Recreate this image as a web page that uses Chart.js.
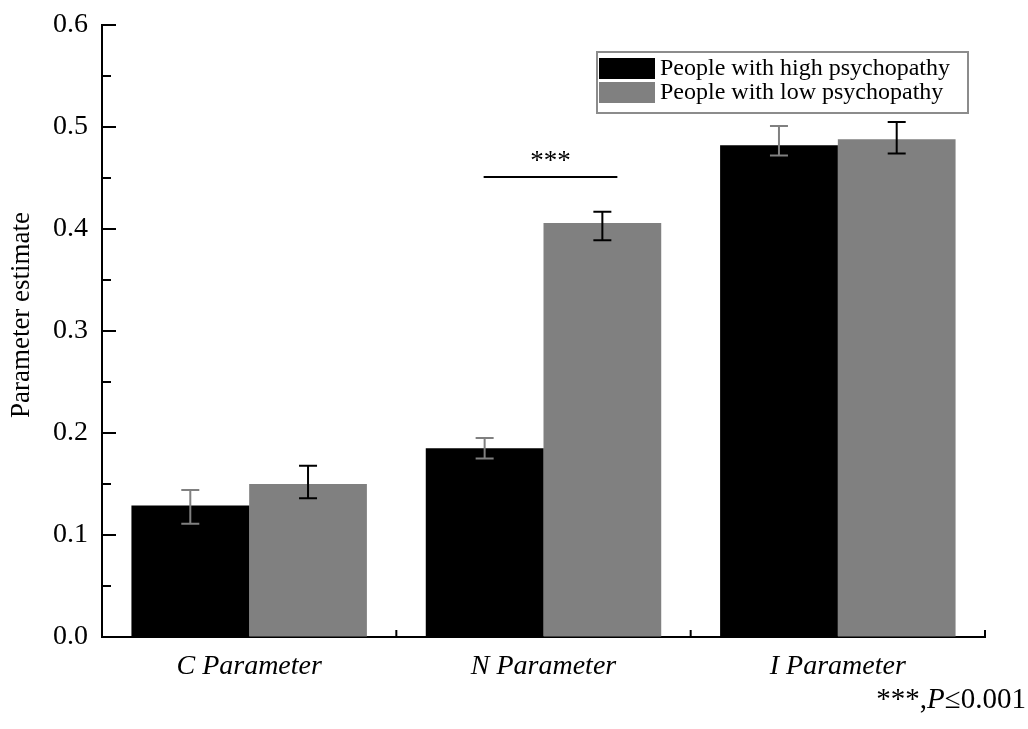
<!DOCTYPE html>
<html>
<head>
<meta charset="utf-8">
<script src="https://cdn.jsdelivr.net/npm/chart.js@4"></script>
<style>
  html, body { margin: 0; padding: 0; background: #fff; }
</style>
</head>
<body>
<canvas id="mycanvas" width="1028" height="729"></canvas>
<script>
const categories = ['C Parameter', 'N Parameter', 'I Parameter'];
const seriesNames = ['People with high psychopathy', 'People with low psychopathy'];
const highValues = [0.129, 0.185, 0.482];
const lowValues = [0.150, 0.406, 0.488];
// error bar ends
const highErrTop = [0.144, 0.195, 0.501];
const highErrBottom = [0.111, 0.175, 0.472];
const lowErrTop = [0.168, 0.417, 0.505];
const lowErrBottom = [0.136, 0.389, 0.474];
const yMin = 0;
const yMax = 0.6;
const yStep = 0.1;
const sigCategory = 1;
const sigLevel = 0.451;
const sigLabel = '***';
const footnoteParts = ['***,', 'P', '\u22640.001'];

const serif = '"Liberation Serif", "DejaVu Serif", serif';
const colors = ['#000000', '#808080'];
const errColors = ['#808080', '#000000'];
const errTop = [highErrTop, lowErrTop];
const errBottom = [highErrBottom, lowErrBottom];

const extras = {
  id: 'extras',
  beforeDraw(chart) {
    const ctx = chart.ctx;
    ctx.save();
    ctx.fillStyle = '#fff';
    ctx.fillRect(0, 0, chart.width, chart.height);
    ctx.restore();
  },
  afterDatasetsDraw(chart) {
    const ctx = chart.ctx;
    const y = chart.scales.y;
    ctx.save();
    ctx.lineWidth = 2;
    chart.data.datasets.forEach((ds, i) => {
      const meta = chart.getDatasetMeta(i);
      ctx.strokeStyle = errColors[i];
      meta.data.forEach((bar, j) => {
        const t = y.getPixelForValue(errTop[i][j]);
        const b = y.getPixelForValue(errBottom[i][j]);
        ctx.beginPath();
        ctx.moveTo(bar.x, t); ctx.lineTo(bar.x, b);
        ctx.moveTo(bar.x - 9, t); ctx.lineTo(bar.x + 9, t);
        ctx.moveTo(bar.x - 9, b); ctx.lineTo(bar.x + 9, b);
        ctx.stroke();
      });
    });
    ctx.restore();
  },
  afterDraw(chart) {
    const ctx = chart.ctx;
    const { x, y } = chart.scales;
    const area = chart.chartArea;
    ctx.save();
    ctx.strokeStyle = '#000';
    ctx.lineWidth = 2;

    // inward ticks on the y axis, minor ones halfway
    y.ticks.forEach((t, k) => {
      const py = y.getPixelForValue(t.value);
      ctx.beginPath();
      ctx.moveTo(area.left, py); ctx.lineTo(area.left + 14, py);
      ctx.stroke();
      if (k < y.ticks.length - 1) {
        const my = y.getPixelForValue((t.value + y.ticks[k + 1].value) / 2);
        ctx.beginPath();
        ctx.moveTo(area.left, my); ctx.lineTo(area.left + 9, my);
        ctx.stroke();
      }
    });

    // small upward ticks at category boundaries
    for (let i = 0; i < categories.length; i++) {
      const px = i < categories.length - 1
        ? (x.getPixelForValue(i) + x.getPixelForValue(i + 1)) / 2
        : area.right;
      ctx.beginPath();
      ctx.moveTo(px, area.bottom); ctx.lineTo(px, area.bottom - 7);
      ctx.stroke();
    }

    // significance bracket
    const m0 = chart.getDatasetMeta(0).data[sigCategory];
    const m1 = chart.getDatasetMeta(1).data[sigCategory];
    const sy = y.getPixelForValue(sigLevel);
    ctx.beginPath();
    ctx.moveTo(m0.x - 1, sy); ctx.lineTo(m1.x + 15, sy);
    ctx.stroke();
    ctx.fillStyle = '#000';
    ctx.font = '27px ' + serif;
    ctx.textAlign = 'center';
    ctx.textBaseline = 'middle';
    ctx.fillText(sigLabel, (m0.x + m1.x + 14) / 2, sy - 15);

    // legend box
    ctx.strokeStyle = '#8c8c8c';
    ctx.lineWidth = 2;
    ctx.strokeRect(597, 52, 371, 61);
    chart.data.datasets.forEach((ds, i) => {
      const top = 58 + i * 24;
      ctx.fillStyle = ds.backgroundColor;
      ctx.fillRect(599, top, 56, 21);
      ctx.fillStyle = '#000';
      ctx.font = '24px ' + serif;
      ctx.textAlign = 'left';
      ctx.textBaseline = 'middle';
      ctx.fillText(ds.label, 660, top + 11);
    });

    // y axis title
    ctx.save();
    ctx.translate(22, 315);
    ctx.rotate(-Math.PI / 2);
    ctx.font = '27px ' + serif;
    ctx.textAlign = 'center';
    ctx.textBaseline = 'middle';
    ctx.fillStyle = '#000';
    ctx.fillText('Parameter estimate', 0, 0);
    ctx.restore();

    // footnote
    const fonts = ['29px ' + serif, 'italic 29px ' + serif, '29px ' + serif];
    let total = 0;
    footnoteParts.forEach((p, i) => { ctx.font = fonts[i]; total += ctx.measureText(p).width; });
    let fx = 1026 - total;
    ctx.textAlign = 'left';
    ctx.textBaseline = 'alphabetic';
    ctx.fillStyle = '#000';
    footnoteParts.forEach((p, i) => {
      ctx.font = fonts[i];
      ctx.fillText(p, fx, 708);
      fx += ctx.measureText(p).width;
    });
    ctx.restore();
  }
};

new Chart(document.getElementById('mycanvas'), {
  type: 'bar',
  data: {
    labels: categories,
    datasets: [
      { label: seriesNames[0], data: highValues, backgroundColor: colors[0] },
      { label: seriesNames[1], data: lowValues, backgroundColor: colors[1] }
    ]
  },
  options: {
    responsive: false,
    animation: false,
    devicePixelRatio: 1,
    layout: { padding: { left: 0, top: 25, right: 43, bottom: 0 } },
    datasets: { bar: { categoryPercentage: 0.8, barPercentage: 1.0 } },
    plugins: {
      legend: { display: false },
      tooltip: { enabled: false }
    },
    scales: {
      x: {
        grid: { drawOnChartArea: false, drawTicks: false },
        border: { color: '#000', width: 2 },
        ticks: {
          color: '#000',
          padding: 13,
          font: { family: serif, size: 28, style: 'italic' }
        },
        afterFit(scale) { scale.height = 92; scale.paddingLeft = 0; scale.paddingRight = 0; }
      },
      y: {
        min: yMin,
        max: yMax,
        grid: { drawOnChartArea: false, drawTicks: false },
        border: { color: '#000', width: 2 },
        ticks: {
          stepSize: yStep,
          color: '#000',
          padding: 14,
          font: { family: serif, size: 28 },
          callback: v => Number(v).toFixed(1)
        },
        afterFit(scale) { scale.width = 102; scale.paddingTop = 0; scale.paddingBottom = 0; }
      }
    }
  },
  plugins: [extras]
});
</script>
</body>
</html>
